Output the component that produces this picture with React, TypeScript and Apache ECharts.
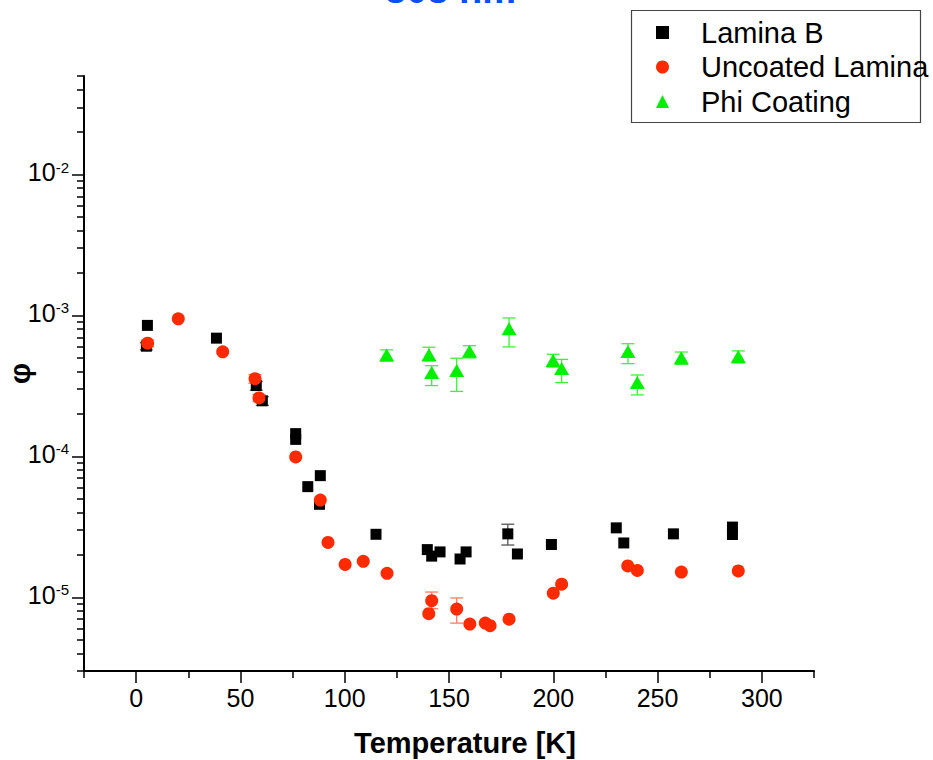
import React, { useEffect, useRef } from "react";
import * as echarts from "echarts";

// ---- Data ----
const laminaB_T = [4.9, 5.4, 38.5, 57.6, 60.5, 76.5, 76.5, 82.3, 88.3, 87.9, 115.0, 139.6, 141.7, 145.7, 155.3, 158.2, 178.2, 182.8, 199.1, 230.2, 233.8, 257.6, 285.9, 285.9];
const laminaB_phi = [6.05e-4, 8.5e-4, 6.9e-4, 3.18e-4, 2.48e-4, 1.45e-4, 1.32e-4, 6.1e-5, 7.3e-5, 4.57e-5, 2.8e-5, 2.18e-5, 1.96e-5, 2.1e-5, 1.87e-5, 2.1e-5, 2.82e-5, 2.03e-5, 2.37e-5, 3.11e-5, 2.43e-5, 2.82e-5, 3.15e-5, 2.79e-5];
const laminaB_err: [number, number, number][] = [
  [4.9, 5.7e-4, 6.4e-4],
  [57.6, 2.95e-4, 3.4e-4],
  [60.5, 2.3e-4, 2.65e-4],
  [178.2, 2.35e-5, 3.3e-5],
];

const uncoated_T = [5.5, 20.2, 41.5, 57.0, 58.9, 76.5, 88.3, 92.0, 100.2, 108.9, 120.3, 140.3, 141.7, 153.7, 160.0, 167.4, 169.7, 178.8, 200.0, 204.0, 235.7, 240.3, 261.4, 288.7];
const uncoated_phi = [6.36e-4, 9.47e-4, 5.52e-4, 3.56e-4, 2.6e-4, 9.9e-5, 4.9e-5, 2.45e-5, 1.71e-5, 1.8e-5, 1.48e-5, 7.65e-6, 9.47e-6, 8.26e-6, 6.46e-6, 6.56e-6, 6.29e-6, 7.0e-6, 1.07e-5, 1.24e-5, 1.67e-5, 1.55e-5, 1.51e-5, 1.54e-5];
const uncoated_err: [number, number, number][] = [
  [5.5, 6.0e-4, 6.7e-4],
  [57.0, 3.3e-4, 3.8e-4],
  [58.9, 2.45e-4, 2.75e-4],
  [141.7, 8.3e-6, 1.09e-5],
  [153.7, 6.56e-6, 9.9e-6],
];

const coating_T = [120.1, 140.4, 141.7, 153.7, 159.8, 178.8, 199.9, 204.0, 235.8, 240.3, 261.4, 288.7];
const coating_phi = [5.25e-4, 5.27e-4, 3.94e-4, 4.06e-4, 5.57e-4, 8.04e-4, 4.78e-4, 4.21e-4, 5.54e-4, 3.35e-4, 5.0e-4, 5.11e-4];
const coating_err: [number, number, number][] = [
  [120.1, 4.75e-4, 5.7e-4],
  [140.4, 4.75e-4, 5.95e-4],
  [141.7, 3.18e-4, 4.4e-4],
  [153.7, 2.89e-4, 4.97e-4],
  [159.8, 5.0e-4, 6.1e-4],
  [178.8, 5.98e-4, 9.6e-4],
  [199.9, 4.3e-4, 5.3e-4],
  [204.0, 3.34e-4, 4.88e-4],
  [235.8, 4.55e-4, 6.3e-4],
  [240.3, 2.73e-4, 3.78e-4],
  [261.4, 4.5e-4, 5.5e-4],
  [288.7, 4.6e-4, 5.6e-4],
];

const seriesNames = ["Lamina B", "Uncoated Lamina", "Phi Coating"];
const xMajorTicks = [0, 50, 100, 150, 200, 250, 300];
const xMinorTicks = [-25, 25, 75, 125, 175, 225, 275, 325];
const yMajorTicks = [1e-5, 1e-4, 1e-3, 1e-2];
const yMinorTicks = [
  3e-6, 4e-6, 5e-6, 6e-6, 7e-6, 8e-6, 9e-6,
  2e-5, 3e-5, 4e-5, 5e-5, 6e-5, 7e-5, 8e-5, 9e-5,
  2e-4, 3e-4, 4e-4, 5e-4, 6e-4, 7e-4, 8e-4, 9e-4,
  2e-3, 3e-3, 4e-3, 5e-3, 6e-3, 7e-3, 8e-3, 9e-3,
  2e-2, 3e-2, 4e-2, 5e-2,
];

const zip = (a: number[], b: number[]) => a.map((v, i) => [v, b[i]]);

const errorSeries = (name: string, data: [number, number, number][], color: string) => ({
  type: "custom",
  name,
  xAxisIndex: 0,
  yAxisIndex: 0,
  z: 1,
  silent: true,
  data,
  renderItem: (_params: any, api: any) => {
    const x = api.value(0);
    const p1 = api.coord([x, api.value(1)]);
    const p2 = api.coord([x, api.value(2)]);
    const w = 6.5;
    const style = { stroke: color, lineWidth: 1.3 };
    return {
      type: "group",
      children: [
        { type: "line", shape: { x1: p1[0], y1: p1[1], x2: p2[0], y2: p2[1] }, style },
        { type: "line", shape: { x1: p1[0] - w, y1: p1[1], x2: p1[0] + w, y2: p1[1] }, style },
        { type: "line", shape: { x1: p2[0] - w, y1: p2[1], x2: p2[0] + w, y2: p2[1] }, style },
      ],
    };
  },
});

const SANS = "'Liberation Sans', Arial, sans-serif";

export default function App() {
  const ref = useRef<HTMLDivElement>(null);
  useEffect(() => {
    if (!ref.current) return;
    const chart = echarts.init(ref.current, undefined, { renderer: "svg" });
    const option: any = {
      animation: false,
      backgroundColor: "#ffffff",
      title: {
        text: "808 nm",
        left: 385,
        top: -29,
        padding: 0,
        textStyle: { color: "#0a50f0", fontSize: 38, fontWeight: "bold", fontFamily: SANS },
      },
      legend: {
        orient: "vertical",
        left: 656,
        top: 18,
        padding: 0,
        itemGap: 5.5,
        itemWidth: 13,
        itemHeight: 13,
        data: [
          { name: seriesNames[0], icon: "rect" },
          { name: seriesNames[1], icon: "circle" },
          { name: seriesNames[2], icon: "triangle" },
        ],
        textStyle: { fontSize: 29, color: "#000", fontFamily: SANS, padding: [0, 0, 0, 27] },
      },
      graphic: [
        {
          type: "rect",
          shape: { x: 631.5, y: 10.5, width: 289, height: 112 },
          style: { fill: "none", stroke: "#444", lineWidth: 1.2 },
          silent: true,
        },
      ],
      grid: { left: 84, right: 119, top: 76, bottom: 89, containLabel: false, outerBoundsMode: "none" },
      xAxis: [
        {
          type: "value",
          min: -25,
          max: 325,
          position: "bottom",
          name: "Temperature [K]",
          nameLocation: "middle",
          nameGap: 57,
          nameMoveOverlap: false,
          nameTextStyle: { fontSize: 29, fontWeight: "bold", fontFamily: SANS, color: "#000", padding: [0, 0, 0, 32] },
          axisLine: { show: true, onZero: false, lineStyle: { color: "#000", width: 2 } },
          axisTick: { show: true, customValues: xMajorTicks, length: 12, lineStyle: { color: "#000", width: 1.5 } },
          axisLabel: {
            customValues: xMajorTicks,
            margin: 14,
            fontSize: 25,
            color: "#000",
            fontFamily: SANS,
          },
          splitLine: { show: false },
        },
        {
          type: "value",
          min: -25,
          max: 325,
          position: "bottom",
          axisLine: { show: false, onZero: false },
          axisTick: { show: true, customValues: xMinorTicks, length: 7, lineStyle: { color: "#000", width: 1.5 } },
          axisLabel: { show: false },
          splitLine: { show: false },
        },
      ],
      yAxis: [
        {
          type: "log",
          logBase: 10,
          min: 3e-6,
          max: 5e-2,
          position: "left",
          name: "φ",
          nameLocation: "middle",
          nameGap: 50,
          nameMoveOverlap: false,
          nameTextStyle: { fontSize: 30, fontWeight: "bold", fontFamily: SANS, color: "#000" },
          axisLine: { show: true, onZero: false, lineStyle: { color: "#000", width: 2 } },
          axisTick: { show: true, customValues: yMajorTicks, length: 12, lineStyle: { color: "#000", width: 1.5 } },
          axisLabel: {
            customValues: yMajorTicks,
            margin: 15,
            color: "#000",
            padding: [0, 0, 5, 0],
            formatter: (v: number) => {
              const e = Math.round(Math.log10(v));
              return `{b|10}{s|${e}}`;
            },
            rich: {
              b: { fontSize: 25, lineHeight: 25, fontFamily: SANS, color: "#000", verticalAlign: "bottom" },
              s: { fontSize: 15, lineHeight: 15, fontFamily: SANS, color: "#000", verticalAlign: "top", padding: [0, 0, 14, 0] },
            },
          },
          splitLine: { show: false },
        },
        {
          type: "log",
          logBase: 10,
          min: 3e-6,
          max: 5e-2,
          position: "left",
          axisLine: { show: false, onZero: false },
          axisTick: { show: true, customValues: yMinorTicks, length: 7, lineStyle: { color: "#000", width: 1.5 } },
          axisLabel: { show: false },
          splitLine: { show: false },
        },
      ],
      series: [
        errorSeries("Lamina B err", laminaB_err, "#555555"),
        errorSeries("Uncoated err", uncoated_err, "#ff7a60"),
        errorSeries("Coating err", coating_err, "#3ef03e"),
        {
          type: "scatter",
          name: seriesNames[0],
          symbol: "rect",
          symbolSize: 11,
          z: 3,
          itemStyle: { color: "#000000", opacity: 1 },
          data: zip(laminaB_T, laminaB_phi),
        },
        {
          type: "scatter",
          name: seriesNames[1],
          symbol: "circle",
          symbolSize: 13,
          z: 4,
          itemStyle: { color: "#ff2a00", opacity: 1 },
          data: zip(uncoated_T, uncoated_phi),
        },
        {
          type: "scatter",
          name: seriesNames[2],
          symbol: "triangle",
          symbolSize: [15, 13],
          z: 5,
          itemStyle: { color: "#00f000", opacity: 1 },
          data: zip(coating_T, coating_phi),
        },
      ],
    };
    chart.setOption(option);
    return () => chart.dispose();
  }, []);
  return (
    <div
      ref={ref}
      style={{ position: "absolute", left: 0, top: 0, width: 933, height: 760, background: "#fff" }}
    />
  );
}
